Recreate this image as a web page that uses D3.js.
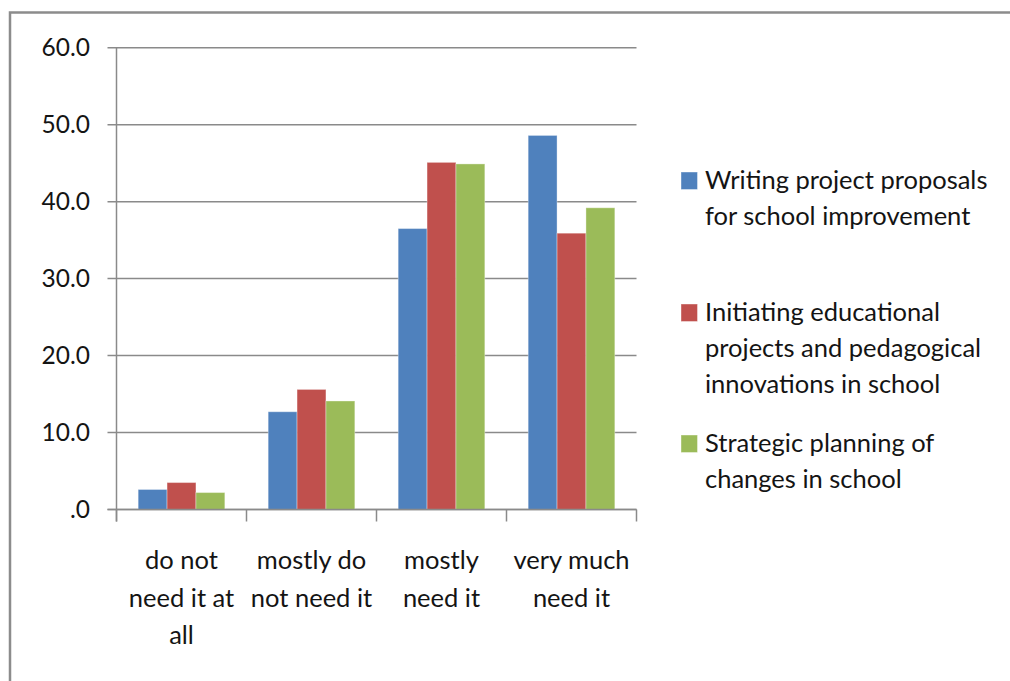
<!DOCTYPE html>
<html>
<head>
<meta charset="utf-8">
<script src="https://cdn.jsdelivr.net/npm/d3@7"></script>
<style>
  html, body { margin: 0; padding: 0; background: #fff; }
  svg { display: block; }
  text { font-family: Lato, "Open Sans", sans-serif; fill: #141414; }
</style>
</head>
<body>
<svg id="chart" width="1010" height="681"></svg>
<script>
// Response categories (x axis), one label line per array entry
const categories = [
  ["do not", "need it at", "all"],
  ["mostly do", "not need it"],
  ["mostly", "need it"],
  ["very much", "need it"]
];

// Series names (legend), one label line per entry
const seriesNames = [
  ["Writing project proposals", "for school improvement"],
  ["Initiating educational", "projects and pedagogical", "innovations in school"],
  ["Strategic planning of", "changes in school"]
];

// Percentages per category for each series
const writingProposals   = [2.6, 12.7, 36.5, 48.6];
const initiatingProjects = [3.5, 15.6, 45.1, 35.9];
const strategicPlanning  = [2.2, 14.1, 44.9, 39.2];

const seriesValues = [writingProposals, initiatingProjects, strategicPlanning];
const seriesColors = ["#4F81BD", "#C0504D", "#9BBB59"];

const yTicks = [0, 10, 20, 30, 40, 50, 60];

const svg = d3.select("#chart");

// Outer chart frame (runs off the right and bottom edges)
svg.append("rect")
  .attr("x", 10).attr("y", 12.5)
  .attr("width", 1020).attr("height", 700)
  .attr("fill", "none")
  .attr("stroke", "#8c8c8c")
  .attr("stroke-width", 2.5);

const plot = { left: 116.5, right: 636.5, top: 47.7, bottom: 509.5 };

const x = d3.scaleBand()
  .domain(d3.range(categories.length))
  .range([plot.left, plot.right])
  .paddingInner(0).paddingOuter(0);

// Gap width of 150%: three bars + 1.5 bar widths of gap per category
const barW = x.bandwidth() / 4.5;
const groupOffset = barW * 0.75;

const y = d3.scaleLinear().domain([0, 60]).range([plot.bottom, plot.top]);

const gridColor = "#8a8a8a";

// Horizontal gridlines with the y axis tick marks folded in
svg.append("g")
  .selectAll("line")
  .data(yTicks)
  .join("line")
  .attr("x1", plot.left - 9).attr("x2", plot.right)
  .attr("y1", d => y(d)).attr("y2", d => y(d))
  .attr("stroke", gridColor).attr("stroke-width", 1.5);

// Y axis line
svg.append("line")
  .attr("x1", plot.left).attr("x2", plot.left)
  .attr("y1", plot.top).attr("y2", plot.bottom + 12)
  .attr("stroke", gridColor).attr("stroke-width", 1.5);

// Y tick labels, SPSS style (".0" for zero)
const fmt = d => d === 0 ? ".0" : d3.format(".1f")(d);
svg.append("g")
  .selectAll("text")
  .data(yTicks)
  .join("text")
  .attr("x", 90)
  .attr("y", d => y(d) + 8.5)
  .attr("text-anchor", "end")
  .attr("font-size", 24.5)
  .text(fmt);

// Category boundary tick marks below the baseline
const boundaries = d3.range(categories.length + 1).map(i =>
  i < categories.length ? x(i) : x(categories.length - 1) + x.bandwidth());
svg.append("g")
  .selectAll("line")
  .data(boundaries)
  .join("line")
  .attr("x1", d => d).attr("x2", d => d)
  .attr("y1", plot.bottom).attr("y2", plot.bottom + 12)
  .attr("stroke", gridColor).attr("stroke-width", 1.5);

// Bars
seriesValues.forEach((vals, s) => {
  svg.append("g")
    .selectAll("rect")
    .data(vals)
    .join("rect")
    .attr("x", (d, i) => x(i) + groupOffset + s * barW)
    .attr("y", d => y(d))
    .attr("width", barW)
    .attr("height", d => y(0) - y(d))
    .attr("fill", seriesColors[s])
    .attr("stroke", "rgba(255,255,255,0.35)")
    .attr("stroke-width", 1);
});

// Baseline drawn over the bars
svg.append("line")
  .attr("x1", plot.left - 9).attr("x2", plot.right)
  .attr("y1", y(0)).attr("y2", y(0))
  .attr("stroke", gridColor).attr("stroke-width", 1.5);

// Category labels
const catG = svg.append("g");
categories.forEach((lines, i) => {
  const t = catG.append("text")
    .attr("text-anchor", "middle")
    .attr("font-size", 25.5);
  lines.forEach((ln, j) => {
    t.append("tspan")
      .attr("x", x(i) + x.bandwidth() / 2)
      .attr("y", 569 + j * 37.5)
      .text(ln);
  });
});

// Legend
const legendTops = [172, 304, 435];
const legend = svg.append("g");
seriesNames.forEach((lines, s) => {
  legend.append("rect")
    .attr("x", 681).attr("y", legendTops[s])
    .attr("width", 16.5).attr("height", 17.5)
    .attr("fill", seriesColors[s])
    .attr("stroke", "rgba(255,255,255,0.4)");
  const t = legend.append("text").attr("font-size", 25.5);
  lines.forEach((ln, j) => {
    t.append("tspan")
      .attr("x", 705)
      .attr("y", legendTops[s] + 17 + j * 36)
      .text(ln);
  });
});
</script>
</body>
</html>
